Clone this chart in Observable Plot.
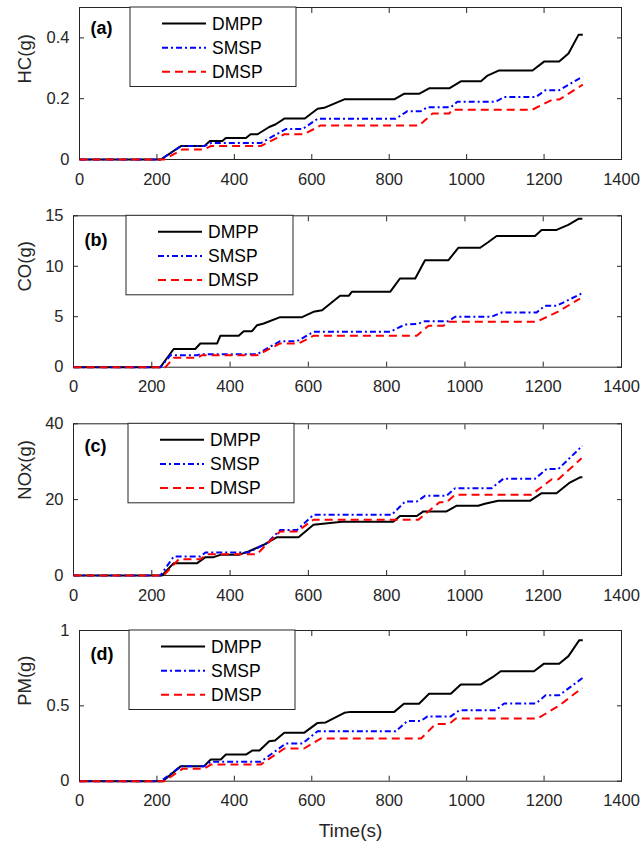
<!DOCTYPE html>
<html>
<head>
<meta charset="utf-8">
<script src="https://cdn.jsdelivr.net/npm/d3@7"></script>
<script src="https://cdn.jsdelivr.net/npm/@observablehq/plot@0.6"></script>
<style>
  body { margin: 0; background: #fff; }
  #wrap { position: relative; width: 643px; height: 848px; overflow: hidden; }
  .panel { position: absolute; left: 0; }
</style>
</head>
<body>
<div id="wrap"></div>
<script>
// ---------- data (time in s, cumulative emission in g) ----------
const seriesNames = ["DMPP", "SMSP", "DMSP"];
const xTicks = [0, 200, 400, 600, 800, 1000, 1200, 1400];
const xTickLabels = ["0", "200", "400", "600", "800", "1000", "1200", "1400"];

const hcTicks = [0, 0.2, 0.4];
const hcTickLabels = ["0", "0.2", "0.4"];
const coTicks = [0, 5, 10, 15];
const coTickLabels = ["0", "5", "10", "15"];
const noxTicks = [0, 20, 40];
const noxTickLabels = ["0", "20", "40"];
const pmTicks = [0, 0.5, 1];
const pmTickLabels = ["0", "0.5", "1"];

const hcDMPP = [[0,0],[210,0],[262,0.044],[322,0.044],[337,0.061],[369,0.061],[378,0.071],[430,0.071],[442,0.083],[460,0.083],[490,0.107],[507,0.116],[530,0.135],[582,0.135],[615,0.167],[632,0.170],[684,0.198],[813,0.198],[838,0.216],[877,0.216],[903,0.234],[955,0.234],[985,0.257],[1037,0.257],[1054,0.276],[1084,0.293],[1170,0.293],[1200,0.322],[1239,0.322],[1263,0.349],[1289,0.41],[1300,0.41]];
const hcSMSP = [[0,0],[210,0],[262,0.044],[322,0.044],[340,0.054],[468,0.054],[533,0.100],[576,0.100],[615,0.134],[817,0.134],[847,0.159],[882,0.159],[899,0.172],[959,0.172],[976,0.190],[1075,0.190],[1097,0.206],[1179,0.206],[1204,0.228],[1239,0.228],[1300,0.273]];
const hcDMSP = [[0,0],[219,0],[266,0.033],[322,0.033],[339,0.044],[468,0.044],[529,0.083],[580,0.083],[623,0.112],[877,0.112],[912,0.151],[955,0.151],[963,0.164],[1170,0.164],[1222,0.197],[1239,0.197],[1300,0.246]];

const coDMPP = [[0,0],[222,0],[256,1.8],[311,1.8],[324,2.35],[367,2.35],[375,3.11],[422,3.11],[435,3.57],[456,3.57],[469,4.16],[486,4.33],[528,4.96],[584,4.96],[613,5.49],[635,5.65],[681,7.07],[703,7.07],[711,7.47],[809,7.47],[834,8.79],[873,8.79],[898,10.6],[958,10.6],[983,11.83],[1039,11.83],[1060,12.4],[1081,13.0],[1179,13.0],[1196,13.6],[1234,13.6],[1264,14.1],[1290,14.7],[1300,14.7]];
const coSMSP = [[0,0],[222,0],[248,1.19],[316,1.19],[324,1.29],[469,1.29],[528,2.58],[571,2.58],[613,3.5],[809,3.5],[847,4.23],[880,4.3],[898,4.56],[958,4.56],[975,5.0],[1068,5.0],[1094,5.42],[1183,5.42],[1204,6.08],[1234,6.08],[1298,7.3]];
const coDMSP = [[0,0],[235,0],[256,0.93],[316,0.93],[328,1.19],[469,1.19],[528,2.35],[575,2.35],[613,3.11],[877,3.11],[907,4.1],[945,4.1],[958,4.5],[1183,4.5],[1238,5.5],[1294,6.8]];

const noxDMPP = [[0,0],[226,0],[256,3.25],[316,3.25],[337,4.83],[358,4.83],[375,5.45],[422,5.45],[447,6.33],[486,8.1],[520,10.1],[575,10.1],[613,13.4],[686,14.2],[817,14.2],[834,15.7],[877,15.7],[894,16.9],[953,16.9],[979,18.4],[1034,18.4],[1051,18.9],[1085,19.7],[1166,19.7],[1196,21.7],[1234,21.7],[1268,24.5],[1294,25.9],[1300,25.9]];
const noxSMSP = [[0,0],[222,0],[256,5.0],[324,5.0],[337,6.07],[447,6.07],[494,8.5],[528,12.0],[571,12.0],[613,16.0],[813,16.0],[847,19.5],[877,19.5],[898,21.0],[953,21.0],[975,23.0],[1068,23.0],[1098,25.5],[1179,25.5],[1209,28.1],[1239,28.1],[1300,34.2]];
const noxDMSP = [[0,0],[230,0],[269,4.3],[324,4.3],[341,5.6],[469,5.6],[494,8.3],[528,11.6],[571,11.6],[613,14.7],[881,14.7],[935,19.3],[953,19.3],[975,21.3],[1170,21.3],[1222,25.4],[1239,25.4],[1298,30.9]];

const pmDMPP = [[0,0],[215,0],[262,0.10],[322,0.10],[339,0.144],[365,0.144],[378,0.177],[430,0.177],[447,0.204],[465,0.204],[490,0.265],[505,0.27],[529,0.321],[580,0.321],[615,0.387],[636,0.39],[684,0.454],[700,0.46],[813,0.46],[838,0.514],[877,0.514],[903,0.58],[959,0.58],[985,0.642],[1037,0.642],[1067,0.69],[1088,0.73],[1174,0.73],[1200,0.78],[1239,0.78],[1263,0.83],[1291,0.936],[1300,0.936]];
const pmSMSP = [[0,0],[210,0],[262,0.10],[322,0.10],[339,0.129],[468,0.129],[533,0.25],[576,0.25],[615,0.332],[817,0.332],[847,0.40],[882,0.40],[899,0.43],[959,0.43],[981,0.47],[1075,0.47],[1097,0.516],[1179,0.516],[1204,0.57],[1239,0.57],[1300,0.686]];
const pmDMSP = [[0,0],[219,0],[266,0.082],[322,0.082],[339,0.11],[468,0.11],[529,0.217],[580,0.217],[623,0.283],[882,0.283],[920,0.38],[955,0.38],[972,0.416],[1183,0.416],[1239,0.502],[1299,0.62]];

// ---------- styles & layout ----------
const FONT = "'Liberation Sans', Arial, Helvetica, sans-serif";
const AXIS_COLOR = "#262626";
const seriesStyle = [
  {stroke: "#000000", dash: null},
  {stroke: "#0000ff", dash: "6,3,2,3"},
  {stroke: "#ff0000", dash: "8,5"}
];

const panels = [
  {tag: "(a)", ylabel: "HC(g)", data: [hcDMPP, hcSMSP, hcDMSP], yDomain: [0, 0.5], yTicks: hcTicks, yTickLabels: hcTickLabels,
   top: 0, height: 208, mt: 7, mb: 49, ml: 79, legL: 130, legR: 296, tagDy: 21},
  {tag: "(b)", ylabel: "CO(g)", data: [coDMPP, coSMSP, coDMSP], yDomain: [0, 15], yTicks: coTicks, yTickLabels: coTickLabels,
   top: 208, height: 208, mt: 7.3, mb: 49.3, ml: 73, legL: 126, legR: 293, tagDy: 24},
  {tag: "(c)", ylabel: "NOx(g)", data: [noxDMPP, noxSMSP, noxDMSP], yDomain: [0, 40], yTicks: noxTicks, yTickLabels: noxTickLabels,
   top: 416, height: 208, mt: 7.3, mb: 49, ml: 73, legL: 128, legR: 294, tagDy: 22},
  {tag: "(d)", ylabel: "PM(g)", data: [pmDMPP, pmSMSP, pmDMSP], yDomain: [0, 1], yTicks: pmTicks, yTickLabels: pmTickLabels,
   top: 624, height: 224, mt: 6, mb: 67.3, ml: 79, legL: 129, legR: 295, tagDy: 24, xlabel: "Time(s)"}
];

const wrap = document.getElementById("wrap");

panels.forEach((p) => {
  const yLab = new Map(p.yTicks.map((t, i) => [t, p.yTickLabels[i]]));
  const xLab = new Map(xTicks.map((t, i) => [t, xTickLabels[i]]));
  const marks = [
    Plot.frame({stroke: AXIS_COLOR, strokeWidth: 1}),
    Plot.axisX({ticks: xTicks, anchor: "bottom", tickSize: -5, tickFormat: () => "", label: null, stroke: AXIS_COLOR}),
    Plot.axisX({ticks: xTicks, anchor: "top", tickSize: -5, tickFormat: () => "", label: null, stroke: AXIS_COLOR}),
    Plot.axisY({ticks: p.yTicks, anchor: "left", tickSize: -5, tickFormat: () => "", label: null, stroke: AXIS_COLOR}),
    Plot.axisY({ticks: p.yTicks, anchor: "right", tickSize: -5, tickFormat: () => "", label: null, stroke: AXIS_COLOR}),
    Plot.axisX({ticks: xTicks, anchor: "bottom", tickSize: 0, tickPadding: 13.5, label: null,
      tickFormat: (d) => xLab.get(d), fontSize: 16.5, fill: AXIS_COLOR}),
    Plot.axisY({ticks: p.yTicks, anchor: "left", tickSize: 0, tickPadding: 10, label: null,
      tickFormat: (d) => yLab.get(d), fontSize: 16.5, fill: AXIS_COLOR}),
  ];
  p.data.forEach((d, i) => {
    marks.push(Plot.line(d, {
      x: (v) => v[0], y: (v) => v[1],
      stroke: seriesStyle[i].stroke, strokeWidth: 2,
      strokeDasharray: seriesStyle[i].dash, strokeLinejoin: "round", strokeLinecap: "butt"
    }));
  });
  marks.push(Plot.text([p.ylabel], {frameAnchor: "left", dx: 25 - p.ml, rotate: -90, text: (d) => d,
    lineAnchor: "middle", fontSize: 18.5, fill: AXIS_COLOR}));
  marks.push(Plot.text([p.tag], {frameAnchor: "top-left", dx: 11, dy: p.tagDy, text: (d) => d, textAnchor: "start",
    lineAnchor: "middle", fontWeight: "bold", fontSize: 18, fill: "#000"}));
  if (p.xlabel) {
    marks.push(Plot.text([p.xlabel], {frameAnchor: "bottom", dy: 49.5, text: (d) => d, lineAnchor: "middle",
      fontSize: 19, fill: AXIS_COLOR}));
  }

  const svg = Plot.plot({
    width: 643, height: p.height,
    marginLeft: p.ml, marginRight: 22, marginTop: p.mt, marginBottom: p.mb,
    x: {domain: [0, 1400]},
    y: {domain: p.yDomain},
    style: {fontFamily: FONT, fontSize: "16.5px", color: AXIS_COLOR, background: "transparent", overflow: "visible"},
    marks
  });

  // legend (MATLAB-style box inside the axes)
  const g = d3.select(svg).append("g").attr("font-family", FONT).attr("text-anchor", "start");
  const legTop = p.mt;
  g.append("rect").attr("x", p.legL).attr("y", legTop).attr("width", p.legR - p.legL).attr("height", 79.5)
    .attr("fill", "#fff").attr("stroke", AXIS_COLOR).attr("stroke-width", 1);
  const rowOff = [16.5, 40.7, 64.7];
  seriesNames.forEach((name, i) => {
    const y = legTop + rowOff[i];
    g.append("line").attr("x1", p.legL + 32).attr("x2", p.legL + 76).attr("y1", y).attr("y2", y)
      .attr("stroke", seriesStyle[i].stroke).attr("stroke-width", 2)
      .attr("stroke-dasharray", seriesStyle[i].dash);
    g.append("text").attr("x", p.legL + 82).attr("y", y).attr("dy", "0.35em")
      .attr("text-anchor", "start")
      .attr("font-size", 17.5).attr("fill", "#000").text(name);
  });

  const div = document.createElement("div");
  div.className = "panel";
  div.style.top = p.top + "px";
  div.appendChild(svg);
  wrap.appendChild(div);
});
</script>
</body>
</html>
